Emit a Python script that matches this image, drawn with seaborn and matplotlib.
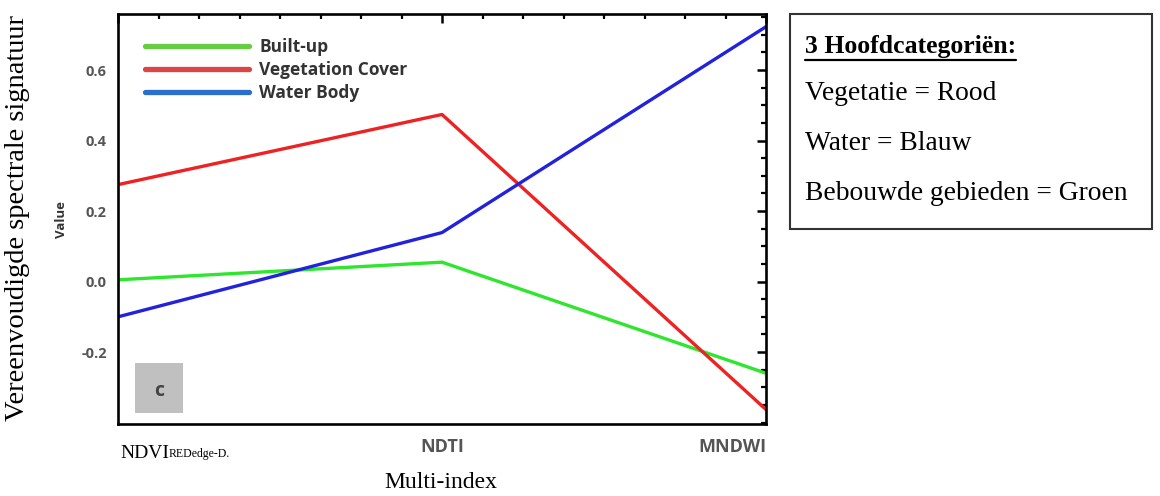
import numpy as np
import pandas as pd
import seaborn as sns
import matplotlib.pyplot as plt
from matplotlib.ticker import MultipleLocator, FixedLocator
from matplotlib.patches import Rectangle
from matplotlib.lines import Line2D

# ---- data ----
indices = ["NDVI", "NDTI", "MNDWI"]
tick_labels = ["", "NDTI", "MNDWI"]
built_up = [0.005, 0.055, -0.26]
vegetation = [0.275, 0.474, -0.363]
water = [-0.10, 0.139, 0.723]
series_names = ["Built-up", "Vegetation Cover", "Water Body"]
line_colors = ["#2ee62e", "#ee2222", "#2222dd"]
legend_colors = ["#66cc44", "#dd4444", "#2a6fcc"]
box_lines = ["Vegetatie = Rood", "Water = Blauw", "Bebouwde gebieden = Groen"]

rows = []
for name, vals in zip(series_names, [built_up, vegetation, water]):
    for i, v in enumerate(vals):
        rows.append({"pos": i, "index": indices[i], "value": v, "series": name})
df = pd.DataFrame(rows)

sns.set_theme(style="white")
plt.rcParams["font.family"] = ["DejaVu Sans"]

fig = plt.figure(figsize=(11.6, 4.96), dpi=100)
ax = fig.add_axes([118 / 1160, 1 - 424 / 496, 648 / 1160, 410 / 496])

sns.lineplot(data=df, x="pos", y="value", hue="series", hue_order=series_names,
             palette=dict(zip(series_names, line_colors)), linewidth=2.4, ax=ax,
             legend=True)

ax.set_xlim(0, 2)
ax.set_ylim(-0.404, 0.759)
ax.set_xlabel("")
ax.set_ylabel("")

ax.yaxis.set_major_locator(FixedLocator([-0.2, 0.0, 0.2, 0.4, 0.6]))
ax.yaxis.set_minor_locator(MultipleLocator(0.05))
ax.xaxis.set_major_locator(FixedLocator([0, 1, 2]))
ax.xaxis.set_minor_locator(MultipleLocator(0.125))
ax.set_yticklabels(["-0.2", "0.0", "0.2", "0.4", "0.6"])
ax.set_xticklabels(tick_labels)

ax.tick_params(which="both", direction="in", top=True, right=True, colors="black")
ax.tick_params(which="major", length=6.5, width=1.8)
ax.tick_params(which="minor", length=3.5, width=1.6)
ax.tick_params(axis="y", labelcolor="#555555", pad=8)
ax.tick_params(axis="x", labelcolor="#555555", pad=10)
for lab in ax.get_yticklabels():
    lab.set_fontfamily("Open Sans")
    lab.set_fontweight("bold")
    lab.set_fontsize(10.5)
for lab in ax.get_xticklabels():
    lab.set_fontfamily("Open Sans")
    lab.set_fontweight("bold")
    lab.set_fontsize(13)
ax.get_xticklabels()[2].set_ha("right")

for s in ax.spines.values():
    s.set_visible(True)
    s.set_color("black")
    s.set_linewidth(1.9)

# legend
leg = ax.legend(loc="upper left", bbox_to_anchor=(0.028, 0.962), frameon=False,
                handlelength=6.0, handletextpad=0.6, borderpad=0, labelspacing=0.28,
                prop={"family": "Open Sans", "weight": "bold", "size": 12.5})
for line, c in zip(leg.get_lines(), legend_colors):
    line.set_color(c)
    line.set_linewidth(3.8)
for t in leg.get_texts():
    t.set_color("#333333")

# 'Value' small label
ax.text(-0.087, 0.50, "Value", transform=ax.transAxes, rotation=90, ha="center",
        va="center", fontsize=9.5, fontweight="bold", family="Open Sans", color="#333333")

# gray box 'c'
box = Rectangle((135 / 1160, 1 - 413 / 496), 48 / 1160, 50 / 496, transform=fig.transFigure,
                facecolor="#c0c0c0", edgecolor="none", zorder=5)
fig.add_artist(box)
fig.text(159 / 1160, 1 - 391 / 496, "c", ha="center", va="center", fontsize=14,
         fontweight="bold", family="Open Sans", color="#444444", zorder=6)

# first x tick label with subscript
t1 = fig.text(120 / 1160, 1 - 453 / 496, "NDVI", ha="left", va="center",
              fontsize=14, family="Liberation Serif", color="black")
ax.annotate("REDedge-D.", xy=(1.0, 0.08), xycoords=t1, ha="left", va="bottom",
            fontsize=8.5, family="Liberation Serif", color="black", annotation_clip=False)

# outer axis labels
fig.text(18 / 1160, 1 - 218 / 496, "Vereenvoudigde spectrale signatuur", rotation=90,
         ha="center", va="center", fontsize=20.5, family="Liberation Serif", color="black")
fig.text(441 / 1160, 1 - 483 / 496, "Multi-index", ha="center", va="center",
         fontsize=17, family="Liberation Serif", color="black")

# right text box
frame = Rectangle((790 / 1160, 1 - 229 / 496), 362 / 1160, 215 / 496,
                  transform=fig.transFigure, facecolor="white", edgecolor="#333333",
                  linewidth=1.5)
fig.add_artist(frame)
title = fig.text(805 / 1160, 1 - 47 / 496, "3 Hoofdcategoriën:", ha="left", va="center",
                 fontsize=18.5, fontweight="bold", family="Liberation Serif", color="black")
for txt, y in zip(box_lines, [93, 143, 193]):
    fig.text(805 / 1160, 1 - y / 496, txt, ha="left", va="center", fontsize=19.8,
             family="Liberation Serif", color="black")

fig.canvas.draw()
bb = title.get_window_extent().transformed(fig.transFigure.inverted())
fig.add_artist(Line2D([bb.x0, bb.x1], [bb.y0 - 0.004, bb.y0 - 0.004],
                      transform=fig.transFigure, color="black", linewidth=1.6))

fig.savefig("out.png", dpi=100)
